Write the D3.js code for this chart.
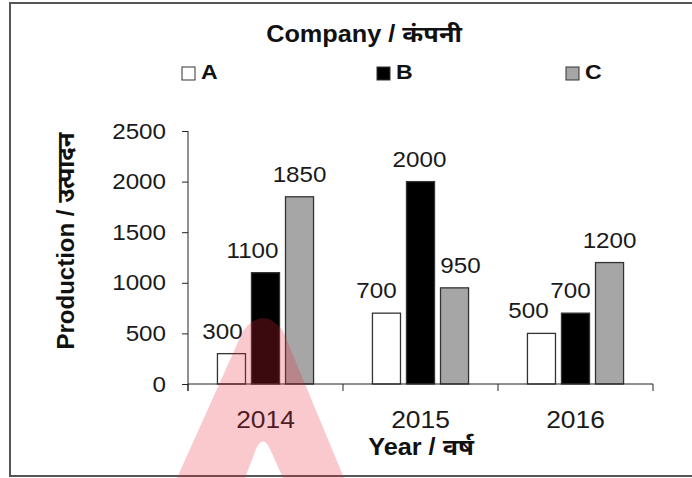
<!DOCTYPE html>
<html>
<head>
<meta charset="utf-8">
<script src="https://cdn.jsdelivr.net/npm/d3@7"></script>
<style>
  html, body { margin: 0; padding: 0; background: #fff; }
  svg { display: block; font-family: "Liberation Sans", Arial, "Noto Sans", sans-serif; }
</style>
</head>
<body>
<svg id="chart" width="692" height="478"></svg>
<script>
// ---- data ----
const years = ["2014", "2015", "2016"];
const companies = ["A", "B", "C"];
const seriesA = [300, 700, 500];
const seriesB = [1100, 2000, 700];
const seriesC = [1850, 950, 1200];
const yTicks = [0, 500, 1000, 1500, 2000, 2500];
const chartTitle = "Company / कंपनी";
const xTitle = "Year / वर्ष";
const yTitle = "Production / उत्पादन";

(function () {
const seriesValues = [seriesA, seriesB, seriesC];
const fills = ["#ffffff", "#000000", "#a6a6a6"];
const SX = 1.1; // horizontal stretch of the source image text

const svg = d3.select("#chart");

// frame
svg.append("rect").attr("x", 10).attr("y", 3).attr("width", 700).attr("height", 473)
  .attr("fill", "#fff").attr("stroke", "#555").attr("stroke-width", 2);

const pLeft = 188, pRight = 653, pTop = 131, pBottom = 384;

const x0 = d3.scaleBand().domain(years).range([pLeft, pRight])
  .paddingInner(0.38).paddingOuter(0.19);
const x1 = d3.scaleBand().domain(companies).range([0, x0.bandwidth()])
  .paddingInner(0.176).paddingOuter(0);
const y = d3.scaleLinear().domain([0, 2500]).range([pBottom, pTop]);

function stretchText(sel, x, yy) {
  sel.attr("transform", `translate(${x},${yy}) scale(${SX},1)`);
}

// title
svg.append("text").text(chartTitle).attr("text-anchor", "middle")
  .attr("font-size", 23).attr("font-weight", "bold").attr("fill", "#111")
  .call(stretchText, 364, 42);

// legend
const legendX = [182, 377, 566];
companies.forEach((c, i) => {
  svg.append("rect").attr("x", legendX[i]).attr("y", 67).attr("width", 13).attr("height", 13)
    .attr("fill", fills[i]).attr("stroke", "#333").attr("stroke-width", 1);
  svg.append("text").text(c).attr("font-size", 21).attr("font-weight", "bold").attr("fill", "#111")
    .call(stretchText, legendX[i] + 19, 79);
});

// y axis
const yAxis = svg.append("g").attr("transform", `translate(${pLeft},0)`)
  .call(d3.axisLeft(y).tickValues(yTicks).tickFormat(d3.format("d"))
    .tickSize(6).tickPadding(16).tickSizeOuter(0));
yAxis.select(".domain").remove();
yAxis.selectAll(".tick line").attr("stroke", "#222");
yAxis.selectAll(".tick text").each(function() {
  const t = d3.select(this);
  const xx = +t.attr("x");
  t.attr("x", 0).attr("transform", `translate(${xx},0) scale(${SX},1)`);
}).attr("font-size", 22).attr("fill", "#1a1a1a");
yAxis.attr("font-family", null).attr("font-size", 22);
svg.append("line").attr("x1", pLeft).attr("x2", pLeft).attr("y1", pTop).attr("y2", pBottom + 7)
  .attr("stroke", "#222").attr("stroke-width", 1);

// bars
const g = svg.append("g");
years.forEach((yr, yi) => {
  companies.forEach((c, ci) => {
    const v = seriesValues[ci][yi];
    g.append("rect")
      .attr("x", x0(yr) + x1(c))
      .attr("y", y(v))
      .attr("width", x1.bandwidth())
      .attr("height", y(0) - y(v))
      .attr("fill", fills[ci])
      .attr("stroke", "#333").attr("stroke-width", 1.3);
  });
});

// value labels (Excel nudged some labels sideways to avoid overlap)
const labelShift = [[-9, -13, 0], [-10, -1, 6], [-13, -5, 0]];
years.forEach((yr, yi) => {
  companies.forEach((c, ci) => {
    const v = seriesValues[ci][yi];
    svg.append("text").text(v).attr("text-anchor", "middle")
      .attr("font-size", 22).attr("fill", "#1a1a1a")
      .call(stretchText, x0(yr) + x1(c) + x1.bandwidth() / 2 + labelShift[yi][ci], y(v) - 15);
  });
});

// x axis
svg.append("line").attr("x1", pLeft).attr("x2", pRight).attr("y1", pBottom).attr("y2", pBottom)
  .attr("stroke", "#222").attr("stroke-width", 1);
const bounds = years.map(yr => x0(yr) - x0.step() * x0.paddingInner() / 2);
bounds.push(pRight);
bounds.forEach(bx => {
  svg.append("line").attr("x1", bx).attr("x2", bx).attr("y1", pBottom).attr("y2", pBottom + 7)
    .attr("stroke", "#222").attr("stroke-width", 1);
});
const xAxis = svg.append("g").attr("transform", `translate(0,${pBottom})`)
  .call(d3.axisBottom(x0).tickSize(0).tickSizeOuter(0));
xAxis.select(".domain").remove();
xAxis.attr("font-family", null).attr("font-size", 24);
xAxis.selectAll(".tick text").each(function() {
  d3.select(this).attr("y", 0).attr("dy", 0).attr("transform", `translate(0,44) scale(${SX},1)`);
}).attr("font-size", 24).attr("fill", "#1a1a1a");

// axis titles
svg.append("text").text(xTitle).attr("text-anchor", "middle")
  .attr("font-size", 23).attr("font-weight", "bold").attr("fill", "#111")
  .call(stretchText, 421, 455);
svg.append("text").text(yTitle).attr("text-anchor", "middle")
  .attr("font-size", 24).attr("font-weight", "bold").attr("fill", "#111")
  .attr("transform", "translate(74,241) rotate(-90)");

// watermark logo
svg.append("path")
  .attr("d", "M177,478 L243,331 Q263,305 283,331 L344,478 Z M245,478 L256,449 Q263,434 270,449 L283,478 Z")
  .attr("fill", "rgb(235,40,60)").attr("fill-opacity", 0.25).attr("fill-rule", "evenodd");
})();
</script>
</body>
</html>
